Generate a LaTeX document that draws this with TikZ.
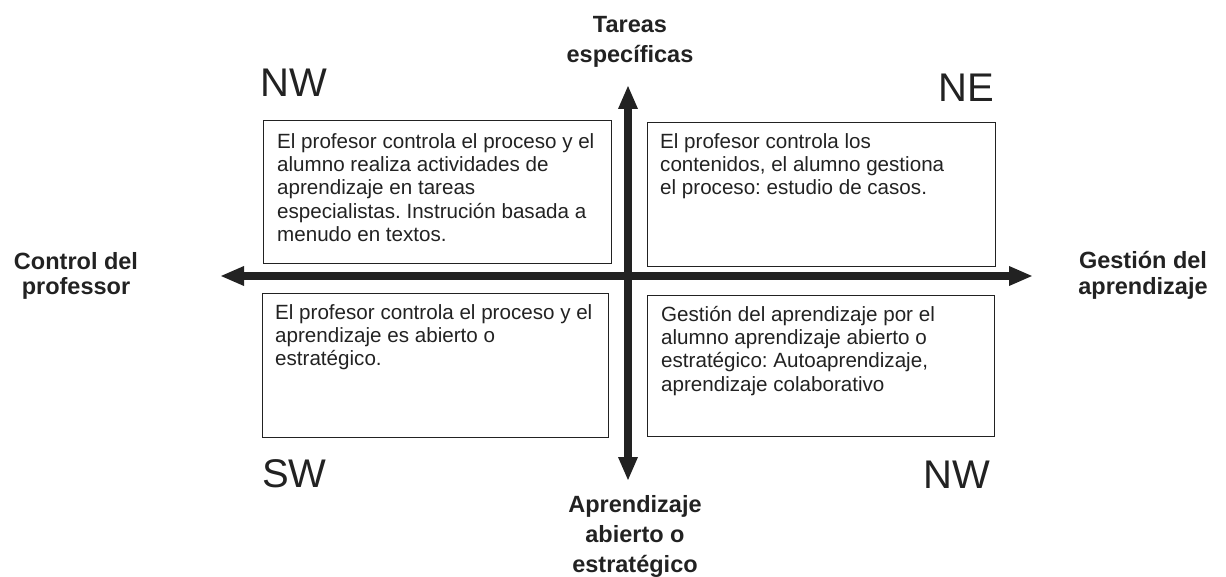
\documentclass[tikz,border=0pt]{standalone}
\usepackage{fontspec}
\setmainfont{Liberation Sans}
\usetikzlibrary{arrows.meta}
\definecolor{ink}{HTML}{222222}
\tikzset{
  quad/.style={draw=ink, line width=1.2pt, rectangle, anchor=north west, inner sep=0pt},
  boxtext/.style={anchor=north west, inner sep=0pt, align=left, text=ink,
    font={\fontsize{20.6}{23.3}\selectfont\frenchspacing}},
  axislabel/.style={anchor=north, inner sep=0pt, align=center, text=ink,
    font={\fontsize{23.5}{30}\selectfont\bfseries}},
  sidelabel/.style={anchor=north, inner sep=0pt, align=center, text=ink,
    font={\fontsize{23.5}{25.5}\selectfont\bfseries}},
  corner/.style={inner sep=0pt, text=ink, font={\fontsize{40}{40}\selectfont}},
  axis/.style={line width=8pt, draw=ink, {Triangle[length=24pt,width=18pt]}-{Triangle[length=24pt,width=18pt]}}
}
\begin{document}
\frenchspacing
\begin{tikzpicture}[x=1pt,y=-1pt]
\useasboundingbox (0,0) rectangle (1226,577);
% boxes
\node[quad, minimum width=348pt, minimum height=143pt] (nwbox) at (263,120) {};
\node[quad, minimum width=348pt, minimum height=144pt] (nebox) at (647,122) {};
\node[quad, minimum width=346pt, minimum height=144pt] (swbox) at (262,293) {};
\node[quad, minimum width=347pt, minimum height=141pt] (sebox) at (647,295) {};
% box texts
\node[boxtext] (nwtext) at (277,133) {El profesor controla el proceso y el\\alumno realiza actividades de\\aprendizaje en tareas\\especialistas. Instrución basada a\\menudo en textos.};
\node[boxtext] (netext) at (660,133) {El profesor controla los\\contenidos, el alumno gestiona\\el proceso: estudio de casos.};
\node[boxtext] (swtext) at (275,304) {El profesor controla el proceso y el\\aprendizaje es abierto o\\estratégico.};
\node[boxtext] (setext) at (661,306) {Gestión del aprendizaje por el\\alumno aprendizaje abierto o\\estratégico: Autoaprendizaje,\\aprendizaje colaborativo};
% axes
\coordinate (left) at (220,276);
\coordinate (right) at (1033,276);
\coordinate (top) at (628,85);
\coordinate (bottom) at (628,481);
\draw[axis] (left) -- (right);
\draw[axis] (bottom) -- (top);
% axis labels
\node[axislabel] (tareas) at (630,16.1) {Tareas\\específicas};
\node[axislabel] (aprend) at (635,495.1) {Aprendizaje\\abierto o\\estratégico};
\node[sidelabel] (control) at (76,252.1) {Control del\\professor};
\node[sidelabel] (gestion) at (1143,251.1) {Gestión del\\aprendizaje};
% corner labels
\node[corner, anchor=base west] (cnw) at (260,97) {NW};
\node[corner, anchor=base east] (cne) at (994,102) {NE};
\node[corner, anchor=base west] (csw) at (262,487) {SW};
\node[corner, anchor=base east] (cse) at (990,488) {NW};
\end{tikzpicture}
\end{document}
